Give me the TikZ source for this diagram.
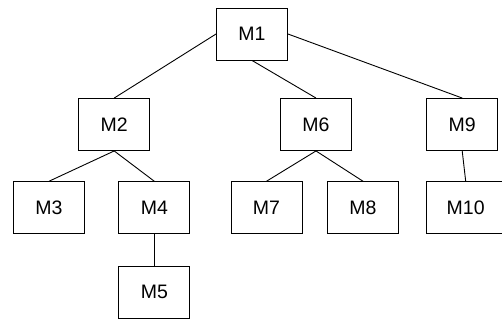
\documentclass[tikz,border=0pt]{standalone}
\usepackage{fontspec}
\setmainfont{Liberation Sans}

\begin{document}
\begin{tikzpicture}[x=1pt,y=-1pt,thin,line width=0.9pt,
		main node/.style = {rectangle,draw, inner sep = 0pt, minimum width = 71pt, minimum height = 52pt, font=\fontsize{19.5}{22}\selectfont}]
		\useasboundingbox (0,0) rectangle (502,320);
		
		\node[main node] at (252,34) (1) {M1};
		\node[main node] at (114.2,124.5) (2) {M2};
		\node[main node] at (316,124.5) (6) {M6};
		\node[main node] at (462.2,124.5) (9) {M9};
		\node[main node] at (49,207.7) (3) {M3};
		\node[main node] at (154.3,207.7) (4) {M4};
		\node[main node] at (266.5,207.7) (7) {M7};
		\node[main node] at (363,207.7) (8) {M8};
		\node[main node,minimum width = 78pt] at (465.7,207.7) (10) {M10};
		\node[main node] at (154.3,292.2) (5) {M5};
		
		\path[-]
		(1.west) edge node {} (2.north)
		(1.south) edge node {} (6.north)
		(1.east) edge node {} (9.north)
		(2.south) edge node {} (3.north)
		(2.south) edge node {} (4.north)
		(4.south) edge node {} (5.north)
		(6.south) edge node {} (7.north)
		(6.south) edge node {} (8.north)
		(9.south) edge node {} (10.north);
		\end{tikzpicture}
\end{document}
